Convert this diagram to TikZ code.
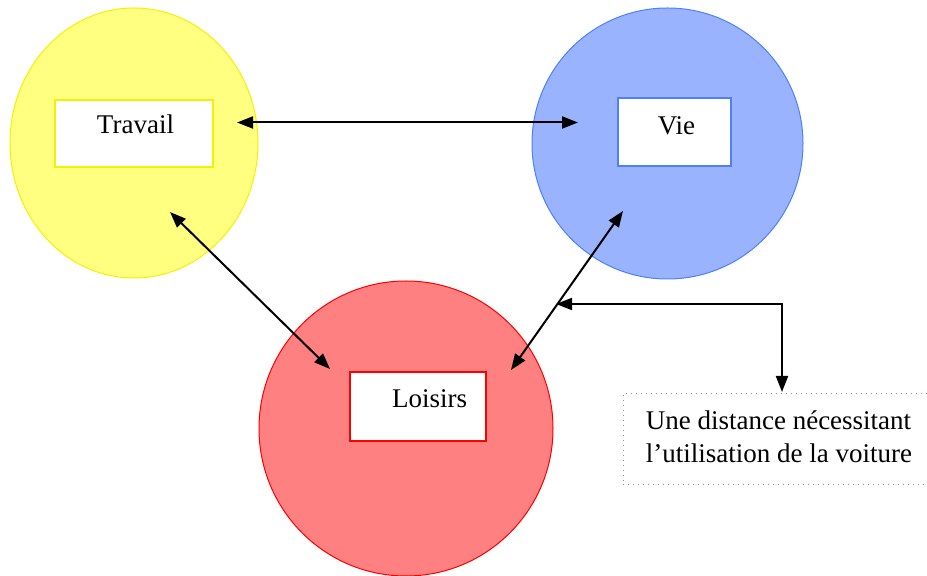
\documentclass[tikz,border=0pt]{standalone}
\usepackage{fontspec}
\setmainfont{Liberation Serif}
\usetikzlibrary{arrows.meta,shapes.geometric}
\definecolor{yfill}{HTML}{FFFF80}
\definecolor{yline}{HTML}{F2F200}
\definecolor{bfill}{HTML}{99B3FF}
\definecolor{bline}{HTML}{4D7FFF}
\definecolor{rfill}{HTML}{FF8080}
\definecolor{rline}{HTML}{FF0000}
\definecolor{dotline}{HTML}{8A86C8}
\tikzset{
  zone/.style={ellipse, draw, line width=0.5pt, inner sep=0pt},
  tag/.style={rectangle, fill=white, line width=1pt, inner sep=0pt},
  word/.style={inner sep=0pt, anchor=base, font=\fontsize{13.5}{16}\selectfont},
  link/.style={line width=1pt, {Triangle[length=8pt,width=6pt]}-{Triangle[length=8pt,width=6pt]}},
}
\begin{document}
\begin{tikzpicture}[x=0.5pt,y=-0.5pt]
\useasboundingbox (0,0) rectangle (927,576);
% the three circles
\node[zone, fill=yfill, draw=yline, minimum width=124pt, minimum height=135pt] (travc) at (134,143) {};
\node[zone, fill=bfill, draw=bline, minimum width=135.5pt, minimum height=135.5pt] (viec) at (667.5,143.5) {};
\node[zone, fill=rfill, draw=rline, minimum width=147pt, minimum height=147.5pt] (loisc) at (406,428.5) {};
% labelled boxes
\node[tag, draw=yline, minimum width=79pt, minimum height=33.5pt] (travb) at (134,133.5) {};
\node[word] (travt) at (135.5,134) {Travail};
\node[tag, draw=bline, minimum width=56.5pt, minimum height=34pt] (vieb) at (674.5,132) {};
\node[word] (viet) at (676.5,135) {Vie};
\node[tag, draw=rline, minimum width=68pt, minimum height=34.5pt] (loisb) at (418,406.5) {};
\node[word] (loist) at (429.5,408) {Loisirs};
% note box
\node[rectangle, draw=dotline, dotted, line width=0.5pt, minimum width=152pt, minimum height=45.5pt, inner sep=0pt] (note) at (775,439.5) {};
\node[word] (notea) at (778.5,429.5) {Une distance nécessitant};
\node[word] (noteb) at (779,462.5) {l’utilisation de la voiture};
% arrow end points
\coordinate (tv1) at (237,122.5);
\coordinate (tv2) at (578,122.5);
\coordinate (tl1) at (170,212);
\coordinate (tl2) at (330,369);
\coordinate (vl1) at (623,211);
\coordinate (vl2) at (511,370);
\coordinate (d1) at (556,304);
\coordinate (d2) at (782,392);
% connectors
\draw[link] (tv1) -- (tv2);
\draw[link] (tl1) -- (tl2);
\draw[link] (vl1) -- (vl2);
\draw[link] (d1) -| (d2);
\end{tikzpicture}
\end{document}
